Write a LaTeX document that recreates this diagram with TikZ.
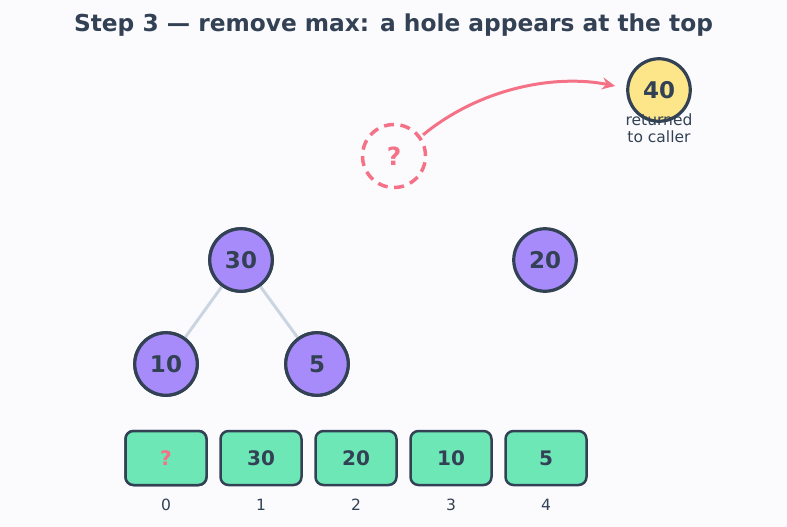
\documentclass[tikz,border=0pt]{standalone}
\usepackage{fontspec}
\setmainfont{DejaVu Sans}
\usetikzlibrary{arrows.meta}
\definecolor{bg}{HTML}{FBFBFE}
\definecolor{ink}{HTML}{334155}
\definecolor{rose}{HTML}{F47186}
\definecolor{violet}{HTML}{A78BFA}
\definecolor{mint}{HTML}{6EE7B7}
\definecolor{sun}{HTML}{FDE68A}
\definecolor{edgegray}{HTML}{CBD5E1}
\tikzset{
  heapnode/.style={circle, draw=ink, line width=3.2pt, fill=violet, minimum size=62.5pt, inner sep=0pt, text=ink, font=\fontsize{23}{26}\selectfont\bfseries},
  maxnode/.style={heapnode, fill=sun},
  holenode/.style={circle, draw=rose, line width=3.5pt, dash pattern=on 10pt off 6.5pt, fill=bg, minimum size=63pt, inner sep=0pt, text=rose, font=\fontsize{25}{28}\selectfont\bfseries},
  cell/.style={rectangle, rounded corners=8pt, draw=ink, line width=2.5pt, fill=mint, minimum width=81pt, minimum height=54pt, inner sep=0pt, text=ink, font=\fontsize{20}{23}\selectfont\bfseries},
  idx/.style={text=ink, font=\fontsize{15.5}{18}\selectfont},
  tedge/.style={draw=edgegray, line width=3pt},
}
\begin{document}
\begin{tikzpicture}[x=1pt,y=-1pt]
\fill[bg] (0,0) rectangle (787,527);
\useasboundingbox (0,0) rectangle (787,527);
\node[text=ink, font=\fontsize{23.3}{27}\selectfont\bfseries] (title) at (393.5,25) {Step 3 — remove max: a hole appears at the top};
% tree
\node[heapnode] (n30) at (241,260) {30};
\node[heapnode] (n20) at (545,260) {20};
\node[heapnode] (n10) at (166,364) {10};
\node[heapnode] (n5) at (317,364) {5};
\path[tedge] (n30) -- (n10);
\path[tedge] (n30) -- (n5);
\node[heapnode] at (n30) {30};
\node[heapnode] at (n10) {10};
\node[heapnode] at (n5) {5};
% hole and max
\node[holenode] (hole) at (394,156) {?};
\node[maxnode] (max) at (659,90) {40};
\node[idx, align=center, inner sep=0pt, font=\fontsize{15.5}{17}\selectfont] (ret) at (659,128.5) {returned\\to caller};
\path (hole.center) ++(-36:36) coordinate (hs);
\coordinate (he) at ([shift={(-11,-4)}]max.west);
\draw[rose, line width=3pt, -{Stealth[length=13pt,width=12pt]}] (hs) .. controls (480,88) and (555,74) .. (he);
% array
\foreach \i/\x/\v in {0/166/?,1/261/30,2/356/20,3/451/10,4/546/5}{
  \node[cell] (c\i) at (\x,458) {\v};
  \node[idx] (i\i) at (\x,505) {\i};
}
\node[cell, text=rose] at (c0) {?};
\end{tikzpicture}
\end{document}
